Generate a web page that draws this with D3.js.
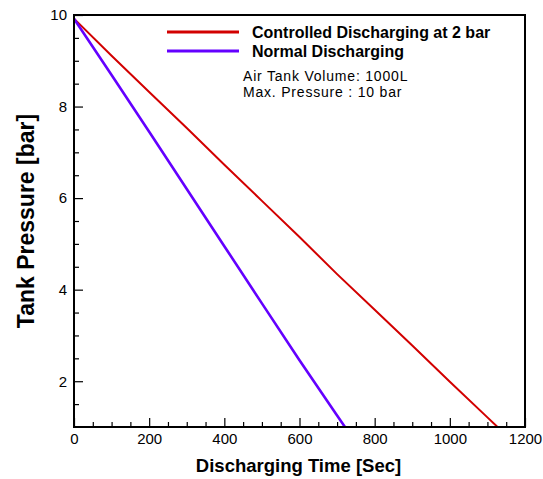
<!DOCTYPE html>
<html>
<head>
<meta charset="utf-8">
<script src="https://cdn.jsdelivr.net/npm/d3@7"></script>
<style>
  body { margin: 0; background: #fff; }
  text { font-family: Arial, "Liberation Sans", sans-serif; }
</style>
</head>
<body>
<div id="chart"></div>
<script>
// values
var timeControlled = [0, 100, 200, 300, 400, 500, 600, 700, 800, 900, 1000, 1100, 1127];
var pressControlled = [9.92, 9.11, 8.32, 7.53, 6.73, 5.94, 5.15, 4.34, 3.56, 2.78, 1.99, 1.21, 1.0];

var timeNormal = [0, 100, 200, 300, 400, 500, 600, 700, 721];
var pressNormal = [9.92, 8.69, 7.45, 6.2, 4.95, 3.7, 2.46, 1.25, 1.0];

var xMajor = [0, 200, 400, 600, 800, 1000, 1200];
var yMajor = [2, 4, 6, 8, 10];

var seriesNames = ["Controlled Discharging at 2 bar", "Normal Discharging"];
var notes = ["Air Tank Volume: 1000L", "Max. Pressure : 10 bar"];

// setup
var width = 543, height = 479;
var margin = {left: 74, top: 15, right: 18, bottom: 52};
var w = width - margin.left - margin.right,
    h = height - margin.top - margin.bottom;

var svg = d3.select("#chart").append("svg")
    .attr("width", width)
    .attr("height", height);
var plot = svg.append("g").attr("transform", "translate(" + margin.left + "," + margin.top + ")");

var x = d3.scaleLinear().domain([0, 1200]).range([0, w]);
var y = d3.scaleLinear().domain([1, 10]).range([h, 0]);

// minor ticks (no labels)
var xMinor = d3.range(0, 1201, 50).filter(function(d) { return d % 200 != 0; });
var yMinor = d3.range(1.5, 10, 0.5).filter(function(d) { return d % 2 != 0; });

plot.append("g")
  .attr("transform", "translate(0," + h + ")")
  .call(d3.axisBottom(x).tickValues(xMinor).tickSize(-5).tickFormat(""));
plot.append("g")
  .call(d3.axisLeft(y).tickValues(yMinor).tickSize(-5).tickFormat(""));

plot.append("g")
  .attr("transform", "translate(0," + h + ")")
  .call(d3.axisBottom(x).tickValues(xMajor).tickSize(-9).tickPadding(6).tickFormat(d3.format("d")));
plot.append("g")
  .call(d3.axisLeft(y).tickValues(yMajor).tickSize(-9).tickPadding(7).tickFormat(d3.format("d")));

svg.selectAll(".domain").remove();
svg.selectAll(".tick line").attr("stroke", "#000").attr("stroke-width", 1.2);
svg.selectAll(".tick text").attr("font-size", 15).attr("fill", "#000")
  .style("font-family", "Arial, 'Liberation Sans', sans-serif");

// curves
var line = d3.line()
  .x(function(d) { return x(d[0]); })
  .y(function(d) { return y(d[1]); });

plot.append("path")
  .datum(d3.zip(timeControlled, pressControlled))
  .attr("d", line)
  .attr("fill", "none")
  .attr("stroke", "#d20000")
  .attr("stroke-width", 2);

plot.append("path")
  .datum(d3.zip(timeNormal, pressNormal))
  .attr("d", line)
  .attr("fill", "none")
  .attr("stroke", "#6400ff")
  .attr("stroke-width", 2.6);

// frame
plot.append("rect")
  .attr("width", w).attr("height", h)
  .attr("fill", "none").attr("stroke", "#000").attr("stroke-width", 2);

// legend
var colors = ["#d20000", "#6400ff"];
var legend = plot.append("g").attr("transform", "translate(93,17)");
seriesNames.forEach(function(name, i) {
  var g = legend.append("g").attr("transform", "translate(0," + (i * 19) + ")");
  g.append("line").attr("x1", 0).attr("x2", 72)
    .attr("stroke", colors[i]).attr("stroke-width", 3);
  g.append("text").attr("x", 85).attr("dy", "0.36em")
    .attr("font-size", 16).attr("font-weight", "bold").text(name);
});

notes.forEach(function(t, i) {
  plot.append("text")
    .attr("x", 169).attr("y", 66 + i * 16)
    .attr("font-size", 14)
    .attr("letter-spacing", 0.8)
    .text(t);
});

// axis titles
svg.append("text")
  .attr("x", margin.left + w / 2 - 1).attr("y", 472)
  .attr("text-anchor", "middle")
  .attr("font-size", 18.5).attr("font-weight", "bold")
  .text("Discharging Time [Sec]");

svg.append("text")
  .attr("transform", "translate(34,221) rotate(-90)")
  .attr("text-anchor", "middle")
  .attr("font-size", 23).attr("font-weight", "bold")
  .text("Tank Pressure [bar]");
</script>
</body>
</html>
